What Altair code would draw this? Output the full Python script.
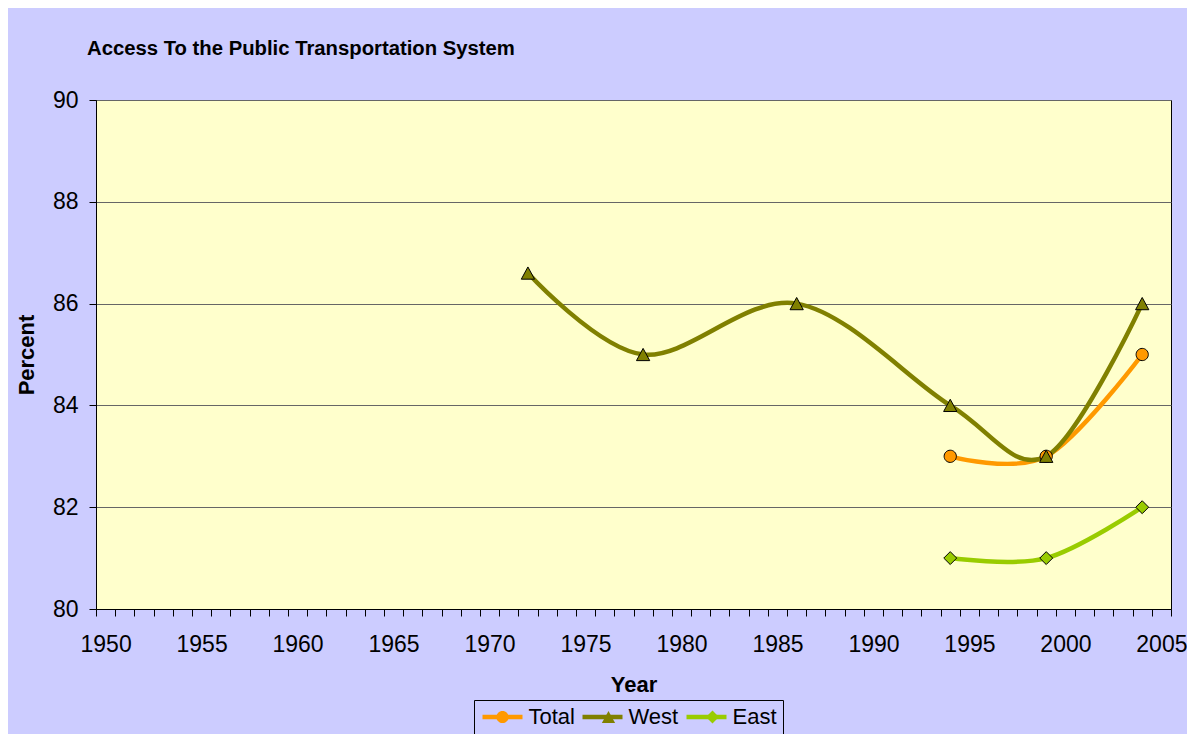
import altair as alt
import pandas as pd

# ---- data ----
series_names = ["Total", "West", "East"]
series_colors = ["#FF9900", "#808000", "#99CC00"]

total_years = [1994, 1999, 2004]
total_values = [83, 83, 85]

west_years = [1972, 1978, 1986, 1994, 1999, 2004]
west_values = [86.6, 85, 86, 84, 83, 86]

east_years = [1994, 1999, 2004]
east_values = [81, 81, 82]

y_ticks = [80, 82, 84, 86, 88, 90]
x_tick_bounds = [1949.5 + i for i in range(57)]  # category boundaries 1949.5 .. 2005.5

# ---- table ----
MARK_SUFFIX = "~"
marker_names = [n + MARK_SUFFIX for n in series_names]
rows = []
for name, yrs, vals in [("Total", total_years, total_values),
                        ("West", west_years, west_values),
                        ("East", east_years, east_values)]:
    for yr, v in zip(yrs, vals):
        rows.append({"Year": yr, "Percent": v, "Series": name, "Marker": name + MARK_SUFFIX})
df = pd.DataFrame(rows)

FONT = "Liberation Sans"
W, H = 1075, 509
SYM = 289            # nominal legend symbol area (17 px box), 1 path unit = 8.5 px
LBL = 22             # legend label size

# marker glyphs (path units), drawn at (dx, 0)
def circle(dx):
    return "M%.3f,0A0.72,0.72,0,1,0,%.3f,0A0.72,0.72,0,1,0,%.3f,0Z" % (dx - 0.72, dx + 0.72, dx - 0.72)

def triangle(dx):
    return "M%.3f,-0.72L%.3f,0.72L%.3f,0.72Z" % (dx, dx + 0.78, dx - 0.78)

def diamond(dx):
    return "M%.3f,-0.76L%.3f,0L%.3f,0.76L%.3f,0Z" % (dx, dx + 0.76, dx, dx - 0.76)

glyph_fns = [circle, triangle, diamond]
chart_marker_paths = [f(0) for f in glyph_fns]

# legend-only marker symbols: invisible moves give the entries the same widths as
# the line legend beneath them; small shifts centre each glyph on its line sample
label_em = [2.223, 2.278, 2.001]          # Liberation Sans widths of Total / West / East
ext_left = 2.765
ext_right = [(22.5 + e * LBL) / 8.5 for e in label_em]
legend_shift = [0.0, 0.94, 1.41]
legend_marker_paths = ["M%.3f,0M%.3f,0" % (-ext_left, r) + f(s)
                       for r, f, s in zip(ext_right, glyph_fns, legend_shift)]
line_path = "M-2.353,0L2.353,0"

x_enc = alt.X(
    "Year:Q",
    scale=alt.Scale(domain=[1949.5, 2005.5], nice=False, zero=False),
    axis=alt.Axis(
        values=x_tick_bounds,
        labelExpr="((datum.value + 0.5) % 5 == 0 && datum.value < 2005) ? format(datum.value + 0.5, 'd') : ''",
        labelOffset=W / 56 / 2, labelOverlap=False, labelFlush=False, labelBound=False,
        labelBaseline="alphabetic", labelPadding=35,
        tickSize=7, grid=False, title="Year",
        titleX=W / 2, titleY=82, titleBaseline="alphabetic", titleAlign="center",
    ),
)
y_enc = alt.Y(
    "Percent:Q",
    scale=alt.Scale(domain=[80, 90], nice=False, zero=False),
    axis=alt.Axis(
        values=y_ticks, grid=True, tickSize=7, labelPadding=11,
        title="Percent", titleX=-70, titleY=H / 2, titleAngle=-90,
        titleBaseline="middle", titleAlign="center",
    ),
)

legend_common = dict(
    orient="none", legendX=378, legendY=600, direction="horizontal", columns=3,
    title=None, symbolSize=SYM, symbolOffset=11.5, labelOffset=15,
    columnPadding=-2, padding=6, labelFontSize=LBL, labelFont=FONT,
    labelColor="black", labelLimit=200,
)

lines = alt.Chart().mark_line(interpolate="cardinal", strokeWidth=4.5).encode(
    x=x_enc, y=y_enc,
    color=alt.Color(
        "Series:N",
        scale=alt.Scale(domain=series_names, range=series_colors),
        legend=alt.Legend(symbolType=line_path, symbolStrokeWidth=4.5,
                          strokeColor="black", **legend_common),
    ),
)

points = alt.Chart().mark_point(filled=True, opacity=1, stroke="black",
                                strokeWidth=1, size=SYM).encode(
    x=x_enc, y=y_enc,
    fill=alt.Fill("Series:N",
                  scale=alt.Scale(domain=series_names, range=series_colors),
                  legend=None),
    shape=alt.Shape("Series:N",
                    scale=alt.Scale(domain=series_names, range=chart_marker_paths),
                    legend=None),
)

marker_legend = alt.Legend(symbolStrokeColor="black", symbolStrokeWidth=1,
                           symbolOpacity=1, labelExpr="''", **legend_common)

# legend-only layer: no rows survive the filter, the legend comes from the fixed domain
legend_markers = alt.Chart().transform_filter("datum.Year < 0").mark_point(
    filled=True, opacity=1, stroke="black", strokeWidth=1, size=SYM
).encode(
    x=x_enc, y=y_enc,
    fill=alt.Fill("Marker:N",
                  scale=alt.Scale(domain=marker_names, range=series_colors),
                  legend=marker_legend),
    shape=alt.Shape("Marker:N",
                    scale=alt.Scale(domain=marker_names, range=legend_marker_paths),
                    legend=marker_legend),
)

chart = alt.layer(lines, points, legend_markers, data=df).resolve_scale(
    fill="independent", shape="independent",
).properties(
    width=W, height=H,
    background="#CCCCFF",
    autosize=alt.AutoSizeParams(type="none"),
    padding={"left": 88, "top": 92, "right": 1179 - 88 - W, "bottom": 125},
    title=alt.Title(
        "Access To the Public Transportation System",
        anchor="start", frame="group", dx=-9, offset=14,
        baseline="alphabetic", fontSize=20.3, font=FONT,
        fontWeight="bold", color="black",
    ),
).configure_view(
    fill="#FFFFCC", stroke="black", strokeWidth=1,
).configure_axis(
    labelFont=FONT, labelFontSize=23, labelColor="black",
    titleFont=FONT, titleFontSize=22, titleFontWeight="bold", titleColor="black",
    domainColor="black", domainWidth=1, tickColor="black", tickWidth=1,
    gridColor="#666666", gridWidth=1,
)

chart.save("out.html", embed_options={"renderer": "svg", "actions": False})
